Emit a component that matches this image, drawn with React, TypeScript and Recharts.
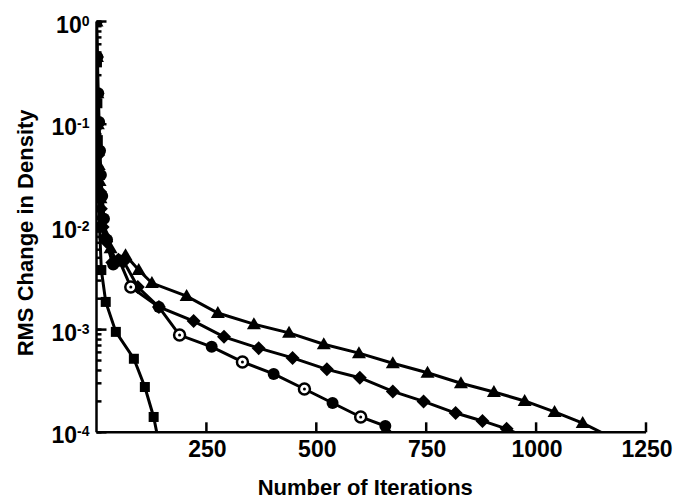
import { LineChart, Line, XAxis, YAxis, Label } from 'recharts';

// iterations / rms change
const TRIANGLE_ITERS = [0, 1, 2, 3, 4, 5, 7, 9, 12, 20, 32, 45, 66, 96, 126, 205, 276, 358, 438, 517, 597, 674, 753, 829, 904, 974, 1042, 1106, 1148];
const TRIANGLE_RMS = [1, 0.45, 0.2, 0.1, 0.063, 0.04, 0.028, 0.019, 0.013, 0.0085, 0.0062, 0.0046, 0.0053, 0.0038, 0.00284, 0.00212, 0.00145, 0.00113, 0.00093, 0.00072, 0.00059, 0.00047, 0.00038, 0.0003, 0.000247, 0.000202, 0.000158, 0.000123, 0.0001];

const DIAMOND_ITERS = [0, 1, 2, 3, 4, 6, 8, 10, 14, 22, 36, 50, 62, 94, 142, 221, 290, 369, 446, 524, 599, 674, 744, 817, 878, 933, 951];
const DIAMOND_RMS = [1, 0.45, 0.2, 0.1, 0.05, 0.033, 0.022, 0.015, 0.01, 0.0072, 0.0045, 0.0048, 0.0046, 0.0026, 0.00166, 0.00121, 0.00085, 0.00066, 0.00053, 0.00041, 0.00034, 0.00025, 0.0002, 0.000154, 0.000129, 0.000108, 0.0001];

const CIRCLE_ITERS = [0, 2, 4, 6, 8, 10, 13, 17, 24, 38, 52, 78, 142, 189, 262, 332, 403, 473, 537, 601, 657, 669];
const CIRCLE_RMS = [1, 0.45, 0.2, 0.105, 0.055, 0.032, 0.02, 0.012, 0.0075, 0.0043, 0.0047, 0.0026, 0.00166, 0.000885, 0.00068, 0.000484, 0.00037, 0.000264, 0.000193, 0.000141, 0.000115, 0.0001];
// points of the circle curve drawn as open circles
const OPEN_CIRCLE_ITERS = [78, 189, 332, 473, 601];

const SQUARE_ITERS = [0, 1, 2, 3, 4, 5, 7, 11, 21, 44, 85, 110, 130, 137];
const SQUARE_RMS = [1, 0.4, 0.16, 0.07, 0.035, 0.02, 0.01, 0.0038, 0.00186, 0.00095, 0.00052, 0.000276, 0.000141, 0.0001];

const X_TICKS = [250, 500, 750, 1000, 1250];
const Y_DECADES = [-4, -3, -2, -1, 0];
const Y_MINOR_STEPS = [2, 3, 4, 5, 6, 7, 8, 9];

const FLOOR = 1e-4;
const FONT = '"Liberation Sans", Arial, Helvetica, sans-serif';

// plot frame
const W = 674;
const H = 504;
const MARGIN = { top: 21.5, right: 28, bottom: 0, left: 0 };
const Y_AXIS_W = 96.5;
const X_AXIS_H = 71.7;
const AXIS_X = MARGIN.left + Y_AXIS_W;
const AXIS_Y = H - MARGIN.bottom - X_AXIS_H;

const Y_TICKS = [
  ...Y_DECADES.map((d) => Math.pow(10, d)),
  ...Y_DECADES.slice(0, -1).flatMap((d) => Y_MINOR_STEPS.map((s) => s * Math.pow(10, d))),
].sort((a, b) => a - b);

const toPoints = (iters: number[], rms: number[]) => iters.map((x, i) => ({ x, y: rms[i] }));

const triangleData = toPoints(TRIANGLE_ITERS, TRIANGLE_RMS);
const diamondData = toPoints(DIAMOND_ITERS, DIAMOND_RMS);
const circleData = toPoints(CIRCLE_ITERS, CIRCLE_RMS);
const squareData = toPoints(SQUARE_ITERS, SQUARE_RMS);

type Shape = 'triangle' | 'diamond' | 'circle' | 'square';

const makeDot = (shape: Shape) => (props: any) => {
  const { cx, cy, payload, index } = props;
  const key = `${shape}-${index}`;
  if (cx == null || cy == null || payload.y <= FLOOR) return <g key={key} />;
  if (shape === 'triangle') {
    return (
      <polygon key={key} points={`${cx},${cy - 7} ${cx + 7},${cy + 5} ${cx - 7},${cy + 5}`} fill="#000" />
    );
  }
  if (shape === 'diamond') {
    return (
      <polygon key={key} points={`${cx},${cy - 7} ${cx + 7},${cy} ${cx},${cy + 7} ${cx - 7},${cy}`} fill="#000" />
    );
  }
  if (shape === 'square') {
    return <rect key={key} x={cx - 5} y={cy - 5} width={10} height={10} fill="#000" />;
  }
  if (OPEN_CIRCLE_ITERS.includes(payload.x)) {
    return (
      <g key={key}>
        <circle cx={cx} cy={cy} r={5.5} fill="#fff" stroke="#000" strokeWidth={2.5} />
        <circle cx={cx} cy={cy} r={1.5} fill="#000" />
      </g>
    );
  }
  return <circle key={key} cx={cx} cy={cy} r={6} fill="#000" />;
};

// tick marks come from the axis (negative tickSize = pointing into the plot);
// decades get a longer mark and a 10^n label
const renderYTick = (props: any) => {
  const { y, payload, index } = props;
  const v = payload.value;
  const exp = Math.round(Math.log10(v));
  const major = Math.abs(Math.log10(v) - exp) < 1e-9;
  return (
    <g key={`yt-${index}`}>
      {major && <line x1={AXIS_X} x2={AXIS_X + 10} y1={y} y2={y} stroke="#000" strokeWidth={2.5} />}
      {major && (
        <text x={AXIS_X - 7} y={y + 11} textAnchor="end" fontFamily={FONT} fontWeight="bold" fontSize={23} fill="#000">
          <tspan>10</tspan>
          <tspan dy={-7} fontSize={14}>{String(exp)}</tspan>
        </text>
      )}
    </g>
  );
};

const renderXTick = (props: any) => {
  const { x, payload, index } = props;
  return (
    <text key={`xt-${index}`} x={x + 1} y={AXIS_Y + 25} textAnchor="middle" fontFamily={FONT} fontWeight="bold" fontSize={23} fill="#000">
      {payload.value}
    </text>
  );
};

const renderYTitle = () => (
  <text
    transform={`translate(32.5, ${(MARGIN.top + AXIS_Y) / 2 + 6}) rotate(-90)`}
    textAnchor="middle"
    fontFamily={FONT}
    fontWeight="bold"
    fontSize={22}
    fill="#000"
  >
    RMS Change in Density
  </text>
);

const renderXTitle = () => (
  <text
    x={(AXIS_X + W - MARGIN.right) / 2 - 6}
    y={AXIS_Y + 62.7}
    textAnchor="middle"
    fontFamily={FONT}
    fontWeight="bold"
    fontSize={22}
    fill="#000"
  >
    Number of Iterations
  </text>
);

const lineProps = {
  type: 'linear' as const,
  dataKey: 'y',
  stroke: '#000',
  strokeWidth: 3,
  isAnimationActive: false,
  activeDot: false,
};

const axisStroke = { stroke: '#000', strokeWidth: 2.5 };

export default function App() {
  return (
    <div style={{ position: 'absolute', left: 0, top: 0, width: W, height: H, background: '#fff' }}>
      <LineChart width={W} height={H} margin={MARGIN}>
        <XAxis
          dataKey="x"
          type="number"
          domain={[0, 1250]}
          ticks={X_TICKS}
          interval={0}
          height={X_AXIS_H}
          tickSize={-10}
          tickMargin={0}
          tickLine={axisStroke}
          tick={renderXTick}
          axisLine={axisStroke}
          allowDataOverflow
        >
          <Label content={renderXTitle} />
        </XAxis>
        <YAxis
          type="number"
          scale="log"
          domain={[FLOOR, 1]}
          ticks={Y_TICKS}
          interval={0}
          width={Y_AXIS_W}
          tickSize={-5}
          tickMargin={0}
          tickLine={axisStroke}
          tick={renderYTick}
          axisLine={axisStroke}
          allowDataOverflow
        >
          <Label content={renderYTitle} />
        </YAxis>
        <Line {...lineProps} data={squareData} dot={makeDot('square')} />
        <Line {...lineProps} data={triangleData} dot={makeDot('triangle')} />
        <Line {...lineProps} data={diamondData} dot={makeDot('diamond')} />
        <Line {...lineProps} data={circleData} dot={makeDot('circle')} />
      </LineChart>
    </div>
  );
}
